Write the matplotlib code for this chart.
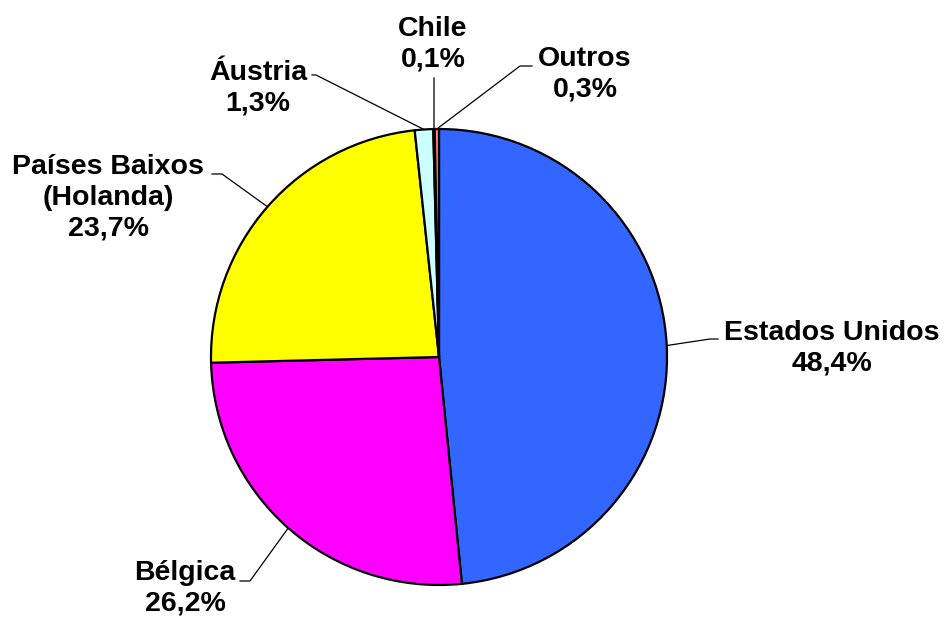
import numpy as np
import matplotlib.pyplot as plt

plt.rcParams['font.family'] = ['Liberation Sans', 'DejaVu Sans']

# Data
labels = ['Estados Unidos', 'Bélgica', 'Países Baixos\n(Holanda)', 'Áustria', 'Chile', 'Outros']
values = [48.4, 26.2, 23.7, 1.3, 0.1, 0.3]
colors = ['#3366FF', '#FF00FF', '#FFFF00', '#CCFFFF', '#000080', '#FF8080']

W, H = 946, 617
fig = plt.figure(figsize=(W / 100, H / 100), dpi=100)
ax = fig.add_axes([0, 0, 1, 1])

cx, cy, r = 439, H - 357, 228
wedges, _ = ax.pie(values, colors=colors, startangle=90, counterclock=False,
                   center=(cx, cy), radius=r, frame=True,
                   wedgeprops=dict(edgecolor='black', linewidth=1.6))
ax.set_xlim(0, W)
ax.set_ylim(0, H)
ax.set_aspect('equal')
ax.axis('off')

# label layout in pixel coords: text center, elbow, end of leader
layout = [
    ((832, 348), (710, 339), (718, 339)),
    ((185, 588), (250, 581), (240, 581)),
    ((108, 198), (222, 174), (212, 174)),
    ((258, 88), (316, 75), (312, 75)),
    ((433, 44), (434, 78), (434, 78)),
    ((585, 74), (520, 66), (532, 66)),
]

for w, lab, v, (tpos, elbow, end) in zip(wedges, labels, values, layout):
    ang = np.deg2rad((w.theta1 + w.theta2) / 2)
    ex, ey = cx + r * np.cos(ang), cy + r * np.sin(ang)
    ax.plot([ex, elbow[0], end[0]], [ey, H - elbow[1], H - end[1]],
            color='black', lw=0.9, zorder=0)
    txt = f"{lab}\n{v:.1f}%".replace('.', ',')
    ax.text(tpos[0], H - tpos[1], txt, ha='center', va='center',
            fontsize=20.5, fontweight='bold', linespacing=1.25)

fig.savefig('out.png', dpi=100)
